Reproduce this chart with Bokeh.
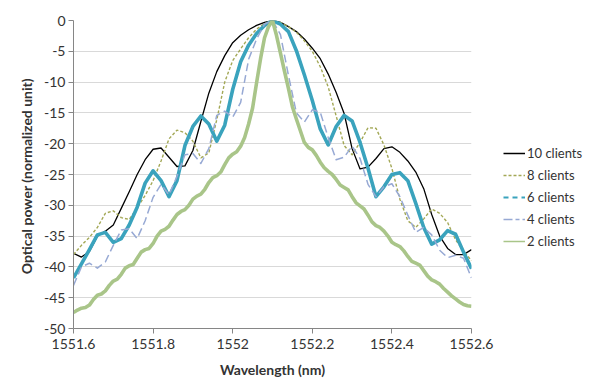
from bokeh.plotting import figure
from bokeh.models import Range1d, FixedTicker, CustomJSTickFormatter, Legend, LegendItem
from bokeh.embed import file_html
from bokeh.resources import INLINE

# Wavelength grid (nm), 0.01 nm steps
wl_fine = [1551.60, 1551.61, 1551.62, 1551.63, 1551.64, 1551.65, 1551.66, 1551.67, 1551.68, 1551.69,
           1551.70, 1551.71, 1551.72, 1551.73, 1551.74, 1551.75, 1551.76, 1551.77, 1551.78, 1551.79,
           1551.80, 1551.81, 1551.82, 1551.83, 1551.84, 1551.85, 1551.86, 1551.87, 1551.88, 1551.89,
           1551.90, 1551.91, 1551.92, 1551.93, 1551.94, 1551.95, 1551.96, 1551.97, 1551.98, 1551.99,
           1552.00, 1552.01, 1552.02, 1552.03, 1552.04, 1552.05, 1552.06, 1552.07, 1552.08, 1552.09,
           1552.10, 1552.11, 1552.12, 1552.13, 1552.14, 1552.15, 1552.16, 1552.17, 1552.18, 1552.19,
           1552.20, 1552.21, 1552.22, 1552.23, 1552.24, 1552.25, 1552.26, 1552.27, 1552.28, 1552.29,
           1552.30, 1552.31, 1552.32, 1552.33, 1552.34, 1552.35, 1552.36, 1552.37, 1552.38, 1552.39,
           1552.40, 1552.41, 1552.42, 1552.43, 1552.44, 1552.45, 1552.46, 1552.47, 1552.48, 1552.49,
           1552.50, 1552.51, 1552.52, 1552.53, 1552.54, 1552.55, 1552.56, 1552.57, 1552.58, 1552.59,
           1552.60]
# 0.02 nm grid used by the 10/8/6/4-client series
wl = wl_fine[::2]

clients_10 = [-37.8, -38.4, -37.5, -35.0, -34.2, -33.2, -30.5, -27.8, -25.0, -22.6,
              -20.9, -20.7, -22.2, -23.7, -23.6, -21.1, -16.4, -11.8, -8.3, -5.7,
              -3.6, -2.4, -1.5, -0.8, -0.3, 0.0,
              -0.3, -1.0, -1.8, -3.0, -4.5, -6.2, -8.7, -11.7, -15.1, -20.8,
              -24.1, -23.8, -22.4, -20.8, -20.5, -21.4, -22.8, -24.6, -27.3, -31.5,
              -35.0, -37.0, -38.0, -38.0, -37.2]

clients_8 = [-38.0, -36.5, -35.2, -33.6, -31.3, -30.9, -32.0, -32.3, -30.4, -28.4,
             -26.0, -22.8, -19.2, -17.8, -18.2, -19.6, -22.3, -21.5, -16.1, -10.0,
             -6.5, -4.6, -2.8, -1.4, -0.5, 0.0,
             -0.3, -1.0, -1.9, -3.3, -5.0, -7.5, -10.8, -15.5, -20.3, -21.8,
             -19.8, -17.4, -17.5, -20.2, -24.0, -29.0, -32.5, -33.6, -32.2, -30.6,
             -31.3, -32.8, -35.6, -37.4, -39.0]

clients_6 = [-41.8, -39.5, -37.2, -34.8, -34.4, -36.0, -35.4, -33.2, -30.3, -26.4,
             -24.4, -26.0, -28.6, -26.0, -20.3, -17.2, -15.5, -16.8, -19.6, -17.0,
             -11.2, -6.7, -4.0, -2.1, -0.8, 0.0,
             -0.6, -1.8, -4.9, -8.8, -13.0, -17.6, -20.2, -17.2, -15.4, -16.3,
             -19.8, -24.0, -28.6, -27.0, -25.0, -24.7, -26.0, -29.7, -33.6, -36.3,
             -35.6, -34.1, -34.7, -37.6, -40.3]

clients_4 = [-43.0, -40.0, -39.4, -40.2, -39.2, -36.5, -34.0, -33.8, -35.4, -32.5,
             -28.7, -26.6, -28.3, -25.3, -21.8, -21.6, -23.2, -20.8, -15.4, -14.7,
             -15.7, -13.3, -6.3, -3.0, -0.6, 0.0,
             -2.3, -8.9, -15.0, -16.5, -14.5, -14.9, -19.0, -22.6, -22.2, -20.4,
             -22.4, -26.6, -28.6, -27.0, -26.5, -28.6, -31.6, -34.4, -33.6, -34.8,
             -37.3, -38.5, -38.1, -38.6, -41.8]

clients_2 = [-47.4, -47.0, -46.7, -46.6, -46.2, -45.3, -44.6, -44.4, -43.9, -43.0,
             -42.3, -42.0, -41.2, -40.2, -39.8, -39.6, -38.6, -37.6, -37.2, -37.0,
             -36.2, -35.0, -34.2, -33.9, -33.4, -32.4, -31.5, -31.0, -30.7, -30.0,
             -29.0, -28.5, -28.2, -27.4, -26.3, -25.5, -25.2, -24.6, -23.4, -22.3,
             -21.7, -21.3, -20.4, -19.0, -16.8, -14.2, -10.1, -6.2, -2.8, -1.0,
             0.0,
             -2.4, -5.3, -8.2, -11.0, -14.0, -16.0, -17.9, -19.8, -20.6, -21.0,
             -21.9, -23.0, -23.9, -24.5, -25.0, -25.8, -26.7, -27.1, -27.5, -28.6,
             -29.6, -30.1, -30.6, -31.6, -32.7, -33.3, -33.6, -34.2, -35.0, -36.0,
             -36.4, -36.7, -37.4, -38.3, -39.1, -39.4, -39.7, -40.6, -41.5, -42.1,
             -42.4, -42.8, -43.5, -44.1, -44.7, -45.2, -45.7, -46.1, -46.3, -46.4]

x_ticks = [1551.6, 1551.8, 1552.0, 1552.2, 1552.4, 1552.6]
y_ticks = [-50, -45, -40, -35, -30, -25, -20, -15, -10, -5, 0]
legend_labels = ["10 clients", "8 clients", "6 clients", "4 clients", "2 clients"]

FONT = "Lato"
TXT = "#333333"
AXC = "#868686"

p = figure(frame_width=398, frame_height=308, output_backend="svg", toolbar_location=None,
           x_range=Range1d(1551.6, 1552.6), y_range=Range1d(-50, 0),
           min_border_left=73, min_border_right=119, min_border_top=20, min_border_bottom=55)
p.outline_line_color = None
p.background_fill_color = "white"
p.border_fill_color = "white"

p.xgrid.visible = False
p.ygrid.grid_line_color = "#d9d9d9"
p.ygrid.grid_line_width = 1

for ax in (p.xaxis[0], p.yaxis[0]):
    ax.axis_line_color = AXC
    ax.major_tick_line_color = AXC
    ax.major_tick_in = 0
    ax.major_tick_out = 5
    ax.minor_tick_line_color = None
    ax.major_label_text_font = FONT
    ax.major_label_text_font_size = "14px"
    ax.major_label_text_color = TXT
    ax.axis_label_text_font = FONT
    ax.axis_label_text_font_size = "14px"
    ax.axis_label_text_font_style = "bold"
    ax.axis_label_text_color = TXT

p.xaxis.ticker = FixedTicker(ticks=x_ticks)
p.yaxis.ticker = FixedTicker(ticks=y_ticks)
p.xaxis.formatter = CustomJSTickFormatter(code="return (Math.round(tick*10)/10).toString();")
p.yaxis.formatter = CustomJSTickFormatter(code="return Math.round(tick).toString();")
p.xaxis.axis_label = "Wavelength (nm)"
p.yaxis.axis_label = "Optical power  (normalized unit)"
p.xaxis.major_label_standoff = 5
p.xaxis.axis_label_standoff = 9
p.yaxis.major_label_standoff = 3
p.yaxis.axis_label_standoff = 6

c10 = "#000000"
c8 = "#A3A856"
c6 = "#3AA3BD"
c4 = "#97A9D4"
c2 = "#A9C589"

p.line(wl, clients_10, line_color=c10, line_width=1.3, line_join="round")
p.line(wl, clients_8, line_color=c8, line_width=1.4, line_dash="3 2", line_join="round")
p.line(wl, clients_6, line_color=c6, line_width=3.6, line_join="round")
p.line(wl, clients_4, line_color=c4, line_width=1.5, line_dash="8 4", line_join="round")
p.line(wl_fine, clients_2, line_color=c2, line_width=3.6, line_join="round")

# hidden legend-only renderers, styled like the reference legend swatches
l10 = p.line(wl, clients_10, line_color=c10, line_width=1.5, visible=False)
l8 = p.line(wl, clients_8, line_color=c8, line_width=1.5, line_dash="3 2", visible=False)
l6 = p.line(wl, clients_6, line_color=c6, line_width=2, line_dash="5 4", visible=False)
l4 = p.line(wl, clients_4, line_color=c4, line_width=1.5, line_dash="9 3 4 3", visible=False)
l2 = p.line(wl_fine, clients_2, line_color=c2, line_width=1.5, visible=False)

legend = Legend(items=[LegendItem(label=legend_labels[0], renderers=[l10]),
                       LegendItem(label=legend_labels[1], renderers=[l8]),
                       LegendItem(label=legend_labels[2], renderers=[l6]),
                       LegendItem(label=legend_labels[3], renderers=[l4]),
                       LegendItem(label=legend_labels[4], renderers=[l2])],
                location=(32, 77))
legend.label_text_font = FONT
legend.label_text_font_size = "13px"
legend.label_text_color = TXT
legend.glyph_width = 22
legend.glyph_height = 20
legend.label_height = 20
legend.label_standoff = 2
legend.spacing = 2
legend.padding = 0
legend.margin = 0
legend.border_line_color = None
legend.background_fill_alpha = 0
legend.inactive_fill_alpha = 0
legend.click_policy = "none"
p.add_layout(legend, "right")

open("out.html", "w").write(file_html(p, INLINE))
